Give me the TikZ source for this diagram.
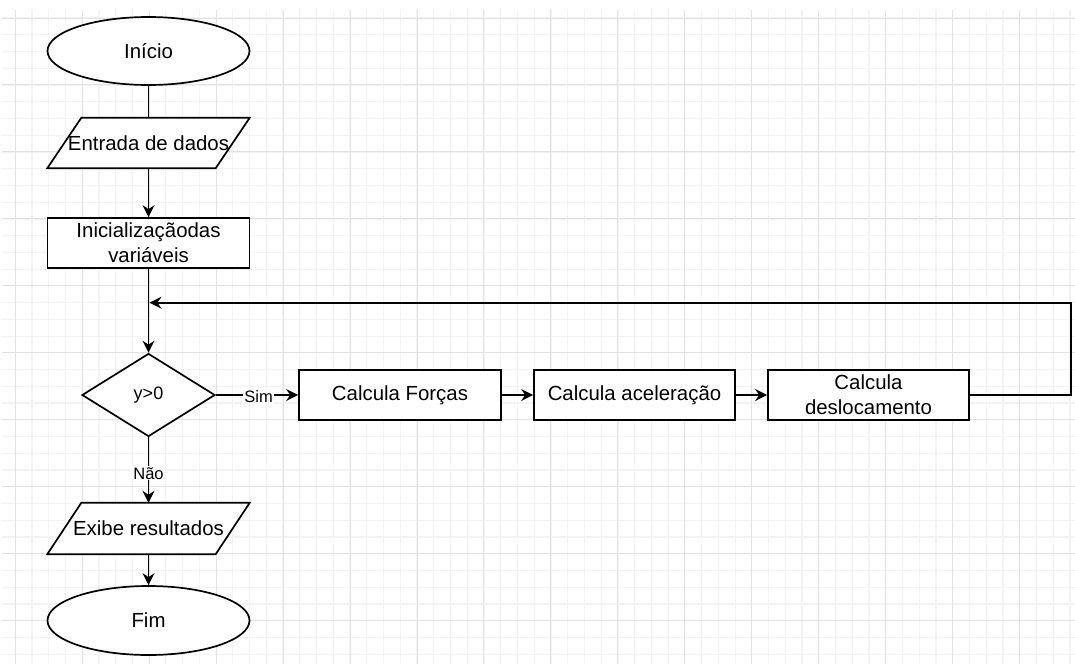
\documentclass[tikz,border=0pt]{standalone}
\usepackage{fontspec}
\setmainfont{Liberation Sans}
\usetikzlibrary{shapes.geometric,arrows.meta}
\pgfdeclarelayer{gridlayer}
\pgfdeclarelayer{shapelayer}
\pgfsetlayers{gridlayer,shapelayer,main}
\definecolor{minorgrid}{HTML}{F3F3F3}
\definecolor{majorgrid}{HTML}{E2E2E2}
\tikzset{
  every node/.style={font=\fontsize{20.4}{25}\selectfont, text=black},
  shp/.style={draw=black, line width=1.7pt, fill=white, inner sep=0pt},
  term/.style={shp, ellipse, minimum width=202pt, minimum height=68pt},
  proc/.style={shp, rectangle, minimum width=202pt, minimum height=50pt, align=center},
  io/.style={rectangle, minimum width=202pt, minimum height=50pt, inner sep=0pt},
  dec/.style={shp, diamond, minimum width=133pt, minimum height=83pt, aspect=1.6},
  conn/.style={line width=1.8pt, draw=black},
  arr/.style={conn, -{Stealth[length=12pt,width=12pt,inset=4pt]}},
  lbl/.style={fill=white, inner sep=1pt, font=\fontsize{16.5}{18}\selectfont},
}
\newcommand{\ioshape}[1]{%
  \begin{pgfonlayer}{shapelayer}
  \draw[line width=1.7pt, fill=white, line join=miter]
    ([xshift=34pt]#1.north west) -- (#1.north east) --
    ([xshift=-34pt]#1.south east) -- (#1.south west) -- cycle;
  \end{pgfonlayer}}
\begin{document}
\begin{tikzpicture}[x=1pt,y=-1pt]
\useasboundingbox (0,0) rectangle (1075,664);
\begin{pgfonlayer}{gridlayer}
  \fill[white] (0,0) rectangle (1075,664);
  % minor grid
  \foreach \i in {-1,...,64} {
    \draw[minorgrid, line width=1.2pt] ({15.2+16.742*\i},10) -- ({15.2+16.742*\i},664);
  }
  \foreach \j in {0,...,39} {
    \draw[minorgrid, line width=1.2pt] (2,{18+16.742*\j}) -- (1075,{18+16.742*\j});
  }
  % major grid
  \foreach \i in {0,...,16} {
    \draw[majorgrid, line width=1pt] ({15.2+66.97*\i},10) -- ({15.2+66.97*\i},664);
  }
  \foreach \j in {0,...,9} {
    \draw[majorgrid, line width=1pt] (2,{18+66.97*\j}) -- (1075,{18+66.97*\j});
  }
\end{pgfonlayer}

\node[term] (inicio) at (148.5,51) {Início};
\node[io] (entrada) at (148.5,143) {Entrada de dados};
\ioshape{entrada}
\node[proc] (init) at (148.5,243) {Inicializaçãodas\\variáveis};
\node[dec] (cond) at (148.5,395) {\fontsize{18}{20}\selectfont y>0};
\node[proc] (forcas) at (400,395) {Calcula Forças};
\node[proc, minimum width=201pt] (acel) at (634.5,395) {Calcula aceleração};
\node[proc, minimum width=201pt] (desl) at (868.5,395) {Calcula\\deslocamento};
\node[io, minimum height=51pt] (exibe) at (148.5,528.5) {Exibe resultados};
\ioshape{exibe}
\node[term, minimum height=69pt] (fim) at (148.5,620.5) {Fim};

\coordinate (loopR) at (1071,302.7);
\coordinate (loopJ) at (149.5,302.7);

\draw[conn] (inicio.south) -- (entrada.north);
\draw[arr] (entrada.south) -- (init.north);
\draw[arr] (init.south) -- (cond.north);
\draw[arr] (desl.east) -| (loopR) -- (loopJ);
\draw[arr] (cond.east) -- node[lbl, pos=0.52, yshift=-2pt] {Sim} (forcas.west);
\draw[arr] (forcas.east) -- (acel.west);
\draw[arr] (acel.east) -- (desl.west);
\draw[arr] (cond.south) -- node[lbl, pos=0.55] {Não} (exibe.north);
\draw[arr] (exibe.south) -- (fim.north);
\end{tikzpicture}
\end{document}
